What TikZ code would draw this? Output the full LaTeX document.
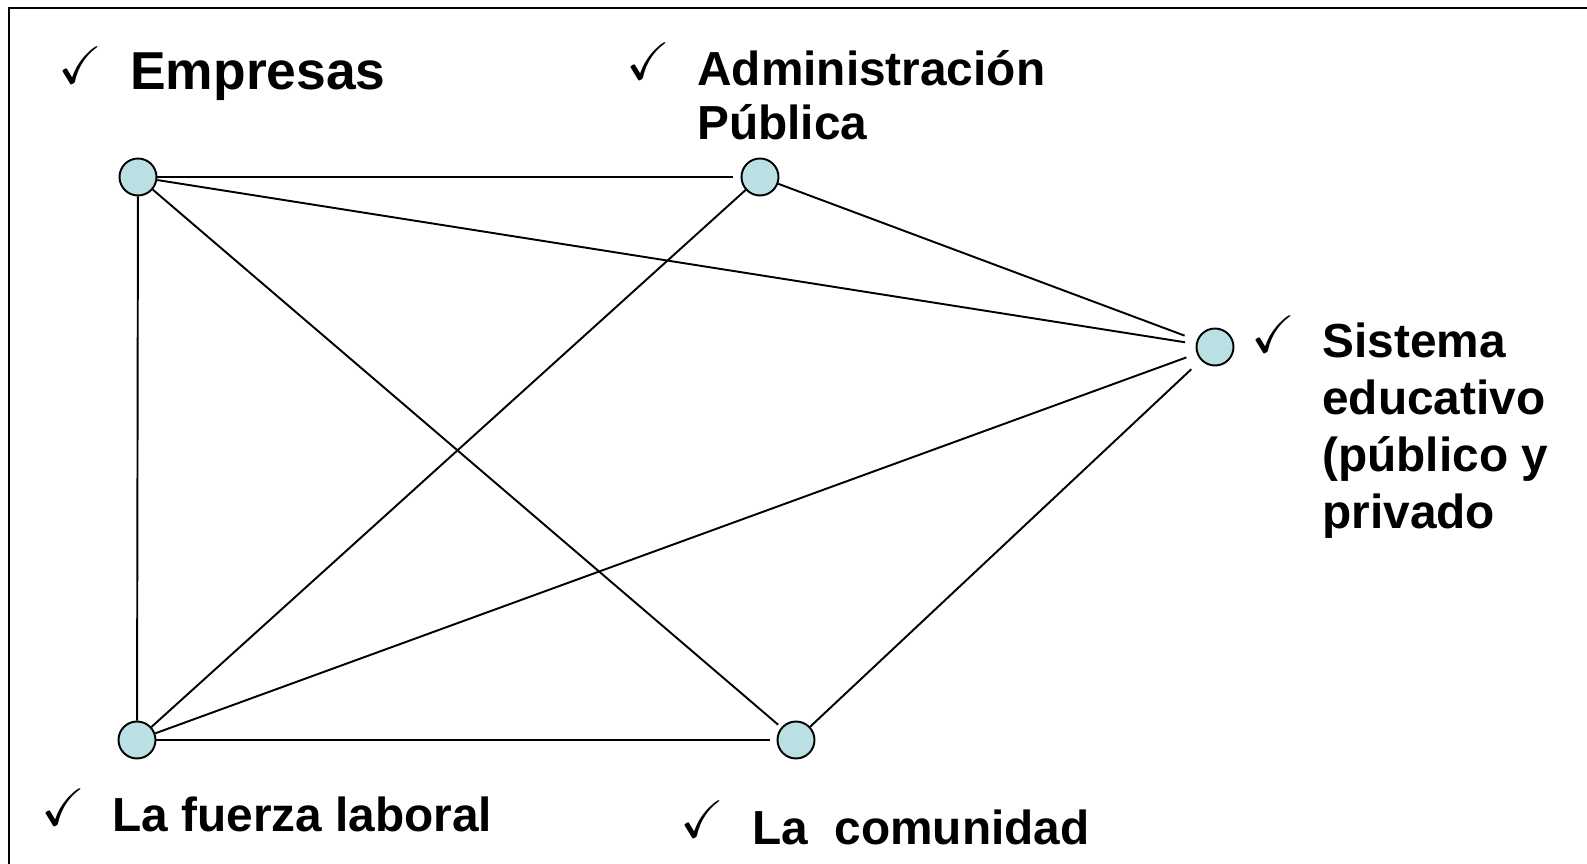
\documentclass[tikz,border=0pt]{standalone}
\usepackage{amssymb}
\usepackage{fontspec}
\setmainfont{Liberation Sans}
\definecolor{nodeblue}{RGB}{187,224,227}
\tikzset{%
  % Specifications for style of nodes:
      member/.style = {circle, draw=black, line width=1.1pt, fill=nodeblue,
                       minimum size=0.74cm, inner sep=0pt},
     tagtext/.style = {anchor=base west, inner sep=0pt, align=left,
                       font=\fontsize{27.2}{32.5}\selectfont\bfseries},
        tick/.style = {anchor=base west, inner sep=0pt,
                       font=\fontsize{30}{30}\selectfont},
        link/.style = {line width=1.1pt},
}
\begin{document}
\begin{tikzpicture}[x=0.02cm, y=-0.02cm]
  \useasboundingbox (0,0) rectangle (1587,864);
  \draw[line width=1.4pt] (9,864) -- (9,8) -- (1587,8);
  % Specification of nodes (position, etc.)
  \node (empresas)       [member] at (138,177) {};
  \node (administracion) [member] at (760,177) {};
  \node (sistema)        [member] at (1215,347) {};
  \node (fuerza)         [member] at (137,740) {};
  \node (comunidad)      [member] at (796,740) {};
  % Texts (placed at the baseline of their last line) and tick marks
  \node (empresasText)  [tagtext, font=\fontsize{30.4}{36}\selectfont\bfseries]
                        at (130,90) {Empresas};
  \node (adminText)     [tagtext, font=\fontsize{27.2}{31.2}\selectfont\bfseries]
                        at (697,140) {Administración\\Pública};
  \node (sistemaText)   [tagtext] at (1322,529)
                        {Sistema\\educativo\\(público y\\privado};
  \node (fuerzaText)    [tagtext] at (112,832) {La fuerza laboral};
  \node (comunidadText) [tagtext] at (752,845) {La\ \ comunidad};
  \node (empresasTick)  [tick] at (58,84)   {$\checkmark$};
  \node (adminTick)     [tick] at (626,80)  {$\checkmark$};
  \node (sistemaTick)   [tick] at (1251,353) {$\checkmark$};
  \node (fuerzaTick)    [tick] at (41,826)  {$\checkmark$};
  \node (comunidadTick) [tick] at (680,838) {$\checkmark$};
  % Specification of lines between nodes specified above
  \draw[link, shorten >=0.16cm] (empresas) -- (administracion);
  \draw[link, shorten >=0.22cm] (empresas) -- (sistema);
  \draw[link]                   (empresas) -- (fuerza);
  \draw[link, shorten >=0.08cm] (empresas) -- (comunidad);
  \draw[link, shorten >=0.26cm] (administracion) -- (sistema);
  \draw[link]                   (administracion) -- (fuerza);
  \draw[link, shorten >=0.22cm] (fuerza) -- (sistema);
  \draw[link, shorten >=0.14cm] (fuerza) -- (comunidad);
  \draw[link, shorten <=0.26cm] (sistema) -- (comunidad);
\end{tikzpicture}
\end{document}
